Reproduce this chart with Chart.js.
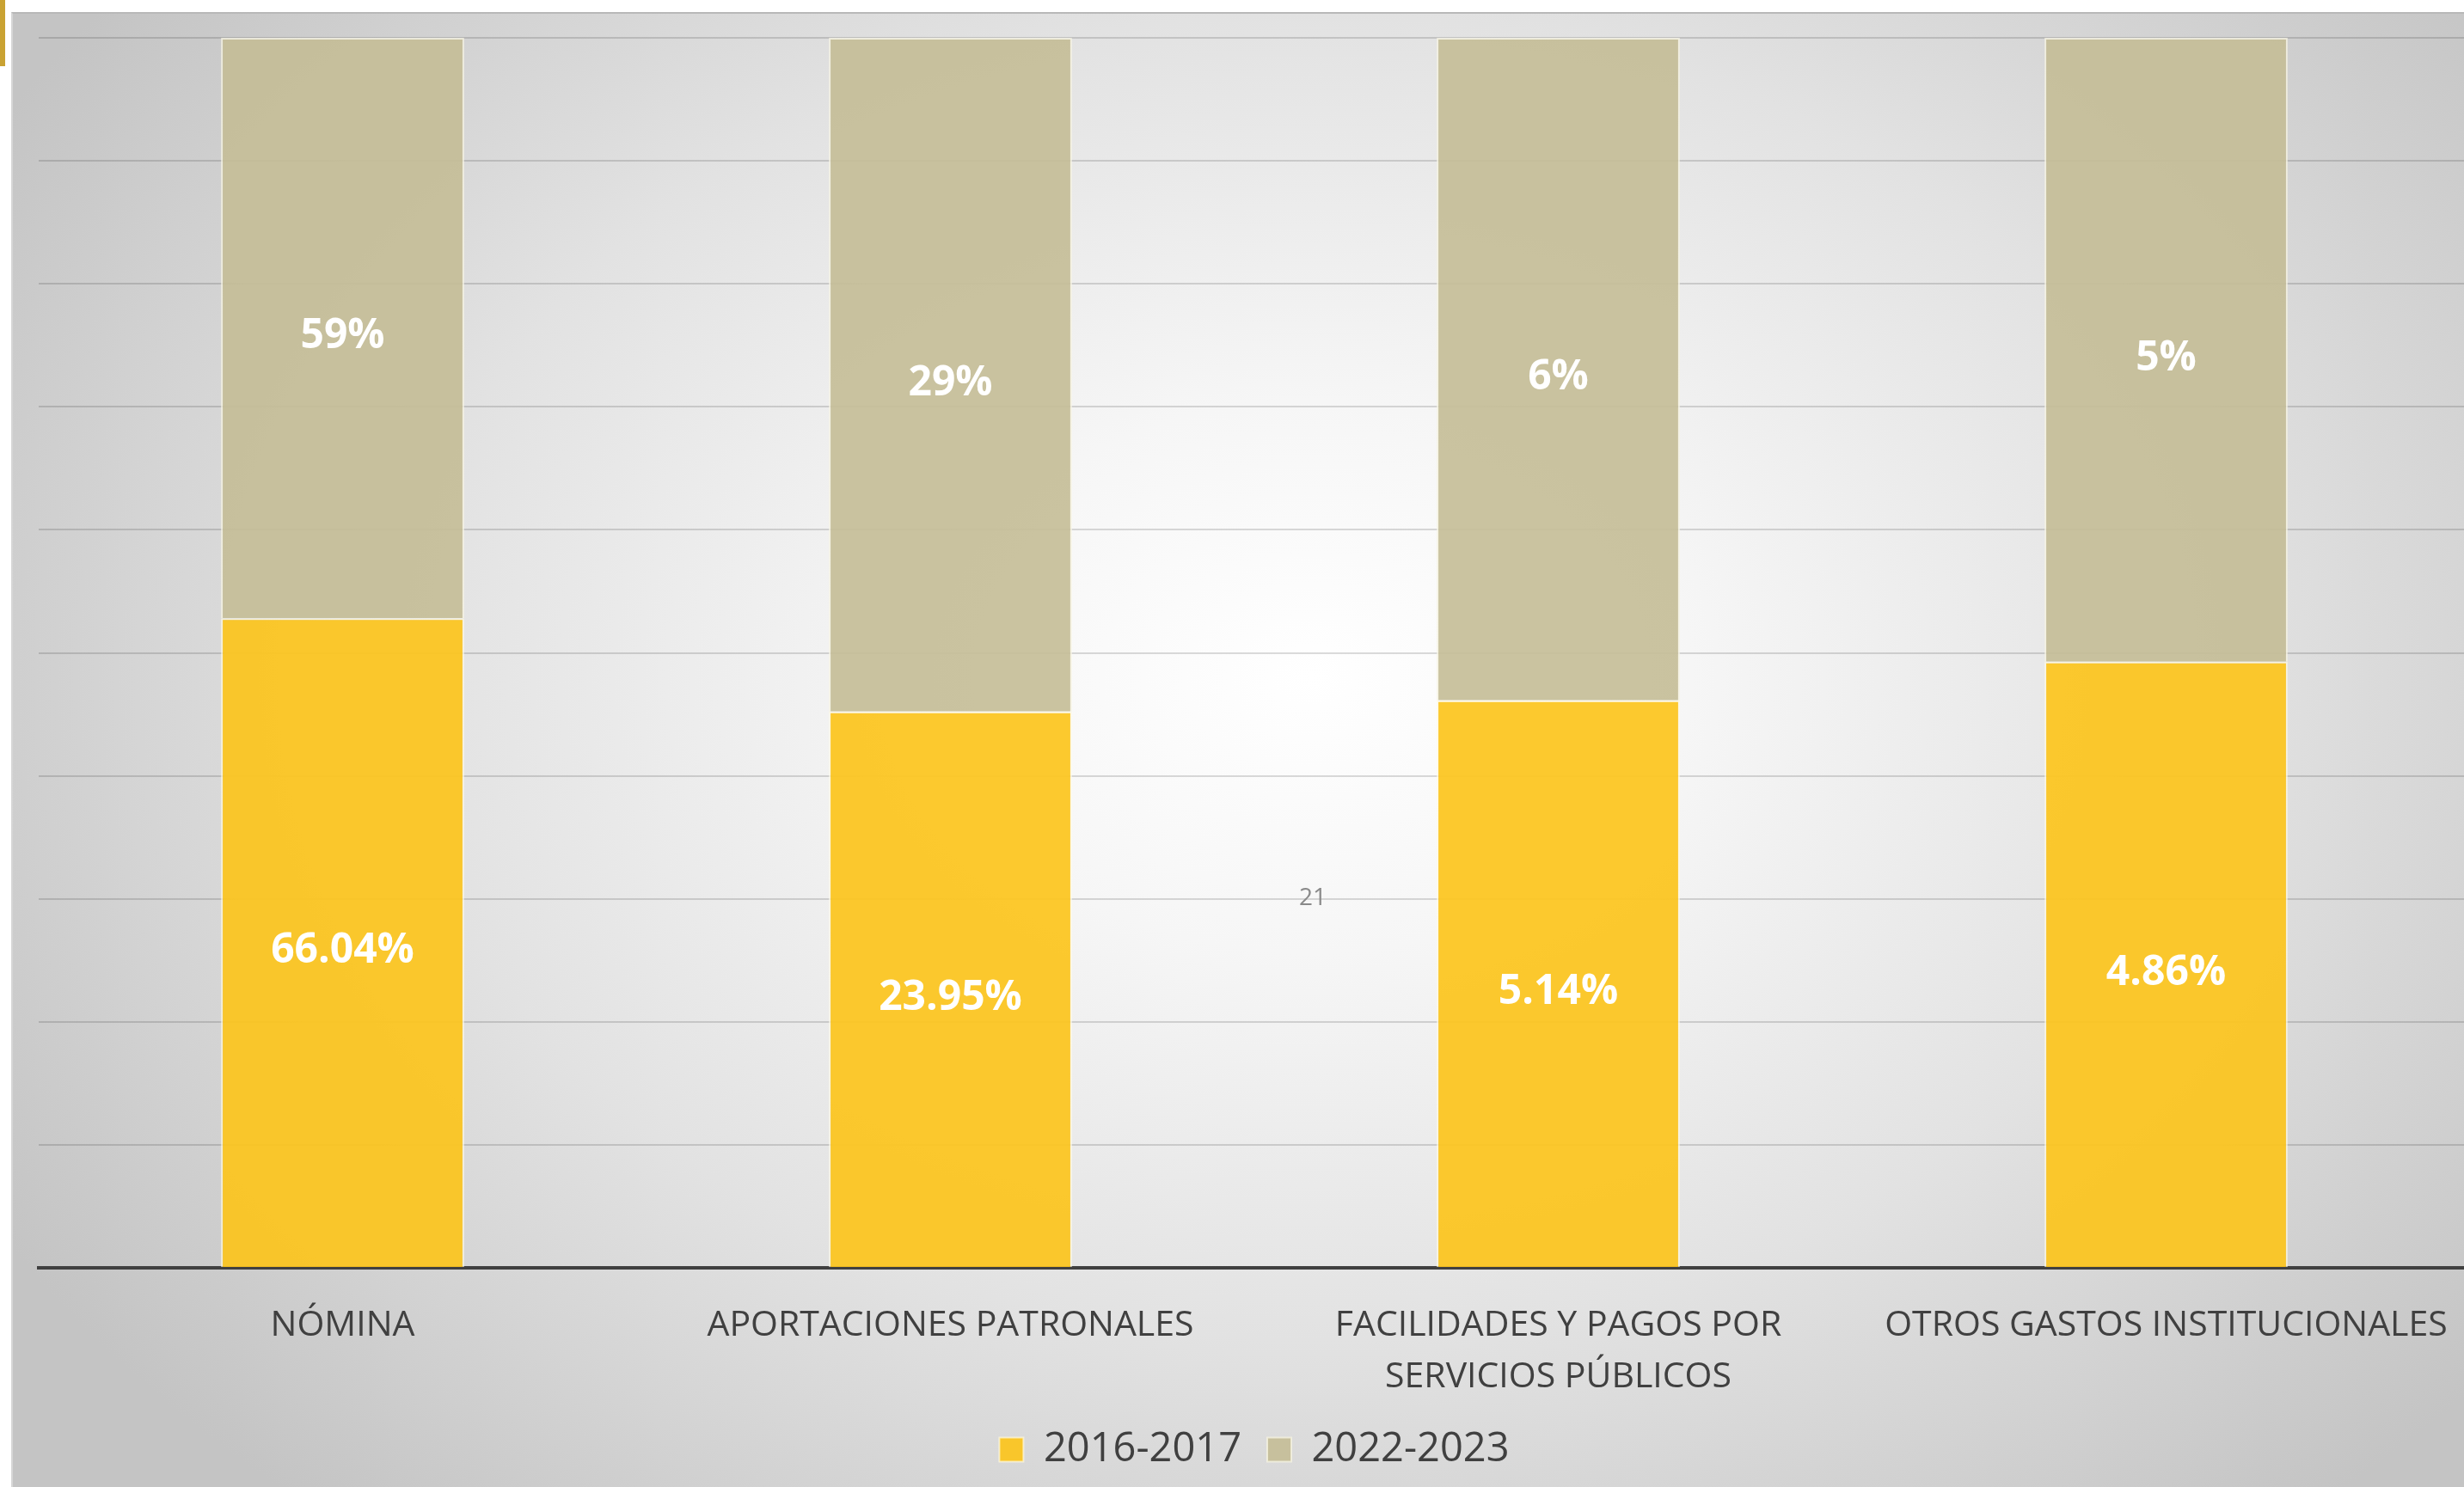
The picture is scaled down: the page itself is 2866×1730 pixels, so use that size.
<!DOCTYPE html>
<html>
<head>
<meta charset="utf-8">
<script src="https://cdn.jsdelivr.net/npm/chart.js@4.4.1/dist/chart.umd.min.js"></script>
<style>
  html, body { margin: 0; padding: 0; width: 2866px; height: 1730px; overflow: hidden; background: #fff; }
  #marca { position: absolute; left: 0; top: 0; width: 6px; height: 77px; background: #c9a232; }
  #marco { position: absolute; left: 13px; top: 14px; right: 0; bottom: 0;
    border-top: 2px solid #b8b8b8; border-left: 2px solid #d6d6d6;
    background: radial-gradient(ellipse 62% 75% at 53% 45%, #ffffff 0%, #f6f6f6 25%, #e2e2e2 60%, #c4c4c4 100%); }
  #lienzo { position: absolute; left: 0; top: 0; width: 2880px; height: 1730px; }
  #pagina { position: absolute; left: 1527px; top: 1042px; transform: translate(-50%, -50%);
    font: 28px "Open Sans", sans-serif; color: #8a8a8a; line-height: 1; }
</style>
</head>
<body>
<div id="marca"></div>
<div id="marco"></div>
<div id="lienzo"><canvas id="grafica"></canvas></div>
<div id="pagina">21</div>
<script>
var categorias = ['NÓMINA', 'APORTACIONES PATRONALES', ['FACILIDADES Y PAGOS POR', 'SERVICIOS PÚBLICOS'], 'OTROS GASTOS INSTITUCIONALES'];
var periodos = ['2016-2017', '2022-2023'];
var valores_2016 = [66.04, 23.95, 5.14, 4.86];
var valores_2022 = [59, 29, 6, 5];

// barras al 100%: cada parte como fraccion del total de la categoria
var parte_2016 = valores_2016.map((v, i) => v / (v + valores_2022[i]) * 100);
var parte_2022 = valores_2022.map((v, i) => v / (valores_2016[i] + v) * 100);

var etiquetas = {
    id: 'etiquetas',
    afterDatasetsDraw(chart) {
        var ctx = chart.ctx;
        var crudos = [valores_2016, valores_2022];
        ctx.save();
        ctx.fillStyle = '#ffffff';
        ctx.font = 'bold 48px "Open Sans", sans-serif';
        ctx.textAlign = 'center';
        ctx.textBaseline = 'middle';
        chart.data.datasets.forEach((ds, d) => {
            chart.getDatasetMeta(d).data.forEach((bar, i) => {
                var y = (bar.y + bar.base) / 2 + 10;
                ctx.fillText(crudos[d][i] + '%', bar.x, y);
            });
        });
        ctx.restore();
    }
};

var ctx = document.getElementById('grafica').getContext('2d');
var grafica = new Chart(ctx, {
    type: 'bar',
    data: {
        labels: categorias,
        datasets: [{
            label: periodos[0],
            data: parte_2016,
            backgroundColor: 'rgba(252, 196, 28, 0.92)',
            borderColor: 'rgba(255, 250, 225, 0.7)',
            borderWidth: 2,
        }, {
            label: periodos[1],
            data: parte_2022,
            backgroundColor: 'rgba(196, 189, 150, 0.9)',
            borderColor: 'rgba(245, 242, 225, 0.8)',
            borderWidth: 2,
        }]
    },
    options: {
        responsive: true,
        maintainAspectRatio: false,
        animation: false,
        layout: { padding: { left: 45, right: 7, top: 44, bottom: 10 } },
        datasets: { bar: { categoryPercentage: 1, barPercentage: 0.4 } },
        scales: {
            x: {
                stacked: true,
                grid: { display: false },
                border: { display: true, color: '#404040', width: 4 },
                ticks: {
                    color: '#404040',
                    padding: 30,
                    maxRotation: 0,
                    autoSkip: false,
                    font: { family: '"Open Sans", sans-serif', size: 41, lineHeight: 1.45 }
                },
                afterFit: s => { s.height = 158; }
            },
            y: {
                stacked: true,
                min: 0,
                max: 100,
                ticks: { display: false, stepSize: 10 },
                grid: { color: 'rgba(0, 0, 0, 0.14)', lineWidth: 2, drawTicks: false },
                border: { display: false },
                afterFit: s => { s.width = 0; }
            }
        },
        plugins: {
            tooltip: { enabled: false },
            legend: {
                position: 'bottom',
                labels: {
                    color: '#404040',
                    boxWidth: 28,
                    boxHeight: 28,
                    padding: 30,
                    font: { family: '"Open Sans", sans-serif', size: 47 }
                }
            }
        }
    },
    plugins: [etiquetas]
});
</script>
</body>
</html>
